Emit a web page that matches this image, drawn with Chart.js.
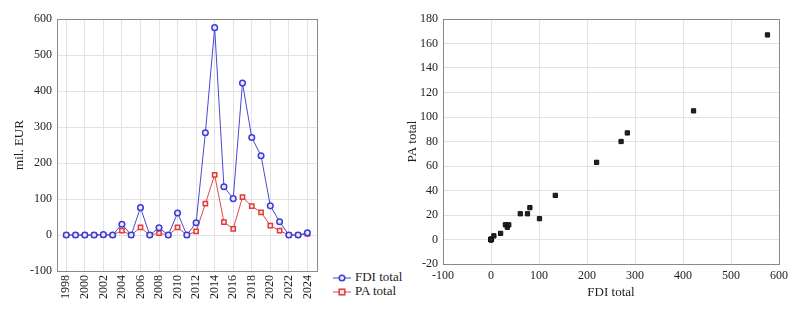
<!DOCTYPE html>
<html>
<head>
<meta charset="utf-8">
<script src="https://cdn.jsdelivr.net/npm/chart.js@4.4.0/dist/chart.umd.min.js"></script>
<style>
    body { margin: 0; background: #fff; width: 807px; height: 315px; position: relative; overflow: hidden; }
    #lineWrap { position: absolute; left: 0; top: 0; width: 326px; height: 315px; }
    #scatterWrap { position: absolute; left: 400px; top: 0; width: 407px; height: 315px; }
    #legend { position: absolute; left: 333px; top: 270px; font: 13px "Liberation Serif", serif; color: #222; }
    #legend div { height: 14px; line-height: 14px; white-space: nowrap; }
    #legend svg { vertical-align: middle; margin-right: 4px; }
</style>
</head>
<body>
<div id="lineWrap"><canvas id="myLine"></canvas></div>
<div id="legend">
    <div><svg width="18" height="8"><line x1="0" y1="4" x2="18" y2="4" stroke="#4848d8" stroke-width="1"/><circle cx="9" cy="4" r="2.8" fill="#e8e8ff" stroke="#3c3cd8" stroke-width="1.5"/></svg>FDI total</div>
    <div><svg width="18" height="8"><line x1="0" y1="4" x2="18" y2="4" stroke="#e04848" stroke-width="1"/><rect x="6.2" y="1.2" width="5.6" height="5.6" fill="#ffe8e8" stroke="#e03c3c" stroke-width="1.5"/></svg>PA total</div>
</div>
<div id="scatterWrap"><canvas id="myScatter"></canvas></div>
<script>
// data
var years = [1998, 1999, 2000, 2001, 2002, 2003, 2004, 2005, 2006, 2007, 2008, 2009, 2010, 2011,
    2012, 2013, 2014, 2015, 2016, 2017, 2018, 2019, 2020, 2021, 2022, 2023, 2024];
var fdiTotal = [0, 0, 0, 0, 1, 0, 30, 0, 76, 0, 20, 0, 61, 0,
    34, 284, 576, 134, 101, 422, 271, 220, 81, 37, 0, 0, 6];
var paTotal = [0, 0, 0, 0, 0, 0, 12, 0, 21, 0, 5, 0, 21, 0,
    10, 87, 167, 36, 17, 105, 80, 63, 26, 12, 0, 0, 3];

var yearTicks = [1998, 2000, 2002, 2004, 2006, 2008, 2010, 2012, 2014, 2016, 2018, 2020, 2022, 2024];
var eurTicks = [-100, 0, 100, 200, 300, 400, 500, 600];
var fdiTicks = [-100, 0, 100, 200, 300, 400, 500, 600];
var paTicks = [-20, 0, 20, 40, 60, 80, 100, 120, 140, 160, 180];

var serif = { family: "'Liberation Serif', 'Times New Roman', serif", size: 12 };
Chart.defaults.font = serif;
Chart.defaults.color = "#222";

var frame = {
    id: "frame",
    afterDraw: function (chart) {
        var a = chart.chartArea, ctx = chart.ctx;
        ctx.save();
        ctx.strokeStyle = "#8a8a8a";
        ctx.lineWidth = 1;
        ctx.strokeRect(Math.round(a.left) + 0.5, Math.round(a.top) + 0.5,
            Math.round(a.right - a.left), Math.round(a.bottom - a.top));
        ctx.restore();
    }
};

function fixTicks(list) {
    return function (scale) {
        scale.ticks = list.map(function (v) { return { value: v }; });
    };
}

// Line chart
new Chart("myLine", {
    type: "line",
    data: {
        datasets: [{
            label: "FDI total",
            data: years.map(function (y, i) { return { x: y, y: fdiTotal[i] }; }),
            borderColor: "#4848d8",
            borderWidth: 1,
            pointStyle: "circle",
            pointRadius: 2.8,
            pointBorderWidth: 1.5,
            pointBorderColor: "#3c3cd8",
            pointBackgroundColor: "#e8e8ff",
            tension: 0,
        },
        {
            label: "PA total",
            data: years.map(function (y, i) { return { x: y, y: paTotal[i] }; }),
            borderColor: "#e04848",
            borderWidth: 1,
            pointStyle: "rect",
            pointRadius: 3,
            pointBorderWidth: 1.5,
            pointBorderColor: "#e03c3c",
            pointBackgroundColor: "#ffe8e8",
            tension: 0,
        },
        ],
    },
    options: {
        responsive: true,
        maintainAspectRatio: false,
        animation: false,
        layout: { padding: { top: 19, right: 3, left: 0, bottom: 0 } },
        plugins: { legend: { display: false }, tooltip: { enabled: false } },
        scales: {
            x: {
                type: "linear",
                min: 1997,
                max: 2025,
                afterBuildTicks: fixTicks(yearTicks),
                afterFit: function (s) { s.height = 44; },
                grid: { color: "#e2e2e2", drawTicks: false },
                border: { display: false },
                ticks: {
                    minRotation: 90,
                    maxRotation: 90,
                    padding: 4,
                    callback: function (v) { return String(v); },
                },
            },
            y: {
                min: -100,
                max: 600,
                afterBuildTicks: fixTicks(eurTicks),
                afterFit: function (s) { s.width = 57; },
                grid: { color: "#e2e2e2", drawTicks: false },
                border: { display: false },
                ticks: { padding: 5 },
                title: { display: true, text: "mil. EUR", padding: { top: 12, bottom: 0 }, font: { size: 13 } },
            },
        },
    },
    plugins: [frame],
});

// Scatter chart
new Chart("myScatter", {
    type: "scatter",
    data: {
        datasets: [{
            label: "PA total vs FDI total",
            data: fdiTotal.map(function (v, i) { return { x: v, y: paTotal[i] }; }),
            pointStyle: "rect",
            pointRadius: 3,
            pointBorderWidth: 1,
            pointBorderColor: "#111",
            pointBackgroundColor: "#222",
        }],
    },
    options: {
        responsive: true,
        maintainAspectRatio: false,
        animation: false,
        layout: { padding: { top: 19, right: 28, left: 0, bottom: 0 } },
        plugins: { legend: { display: false }, tooltip: { enabled: false } },
        scales: {
            x: {
                min: -100,
                max: 600,
                afterBuildTicks: fixTicks(fdiTicks),
                afterFit: function (s) { s.height = 51; },
                grid: { color: "#e2e2e2", drawTicks: false },
                border: { display: false },
                ticks: { padding: 5 },
                title: { display: true, text: "FDI total", padding: { top: 0, bottom: 15 }, font: { size: 13 } },
            },
            y: {
                min: -20,
                max: 180,
                afterBuildTicks: fixTicks(paTicks),
                afterFit: function (s) { s.width = 43; },
                grid: { color: "#e2e2e2", drawTicks: false },
                border: { display: false },
                ticks: { padding: 5 },
                title: { display: true, text: "PA total", padding: { top: 5, bottom: 0 }, font: { size: 13 } },
            },
        },
    },
    plugins: [frame],
});
</script>
</body>
</html>
